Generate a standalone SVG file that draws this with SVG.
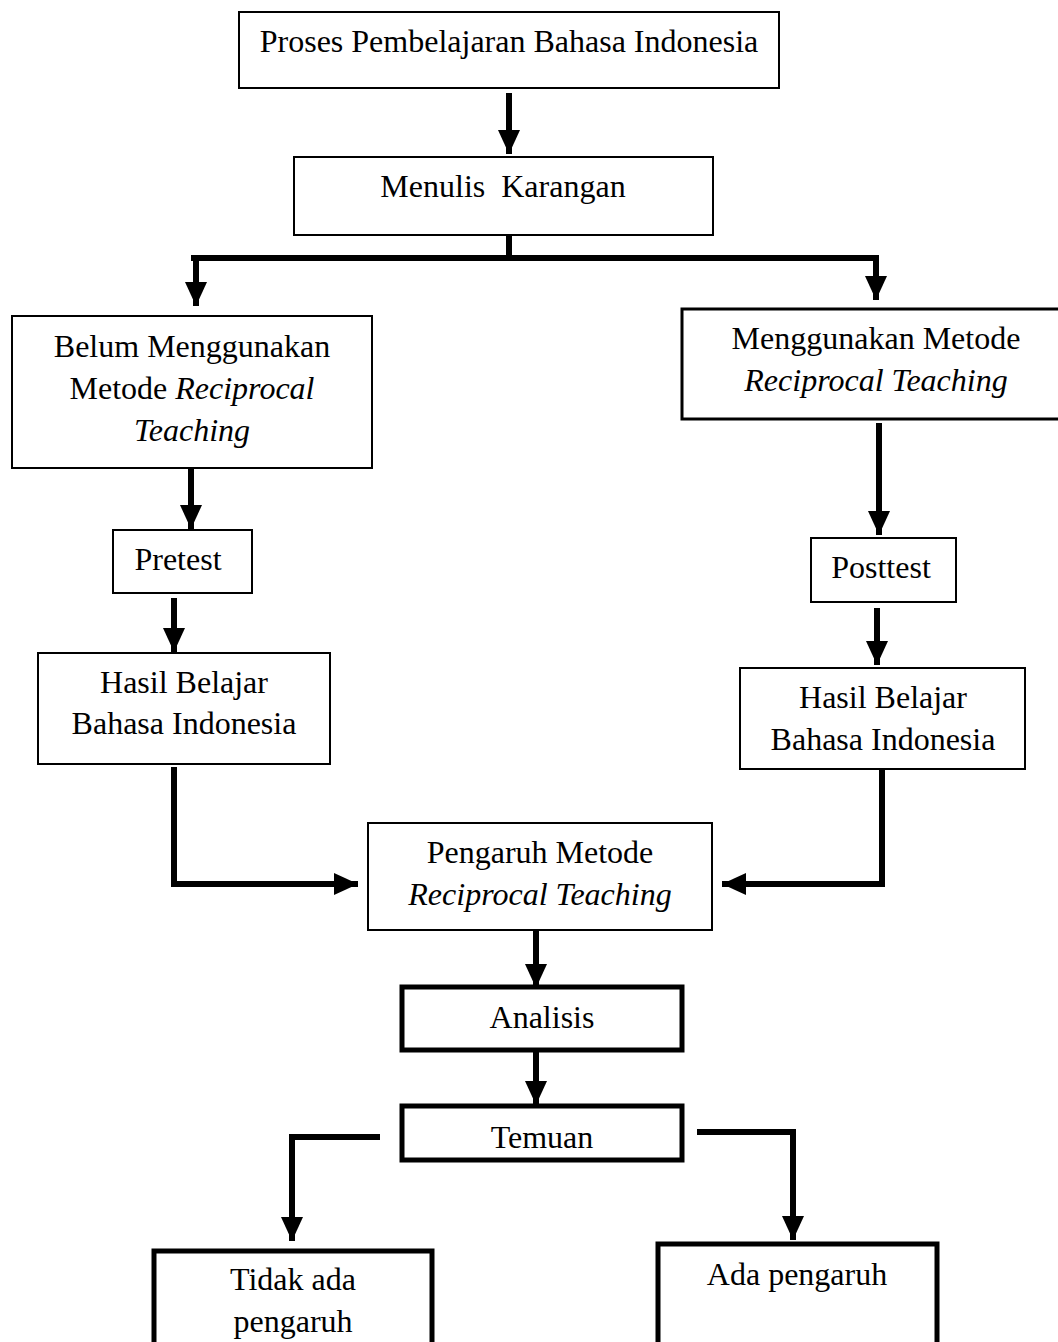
<svg xmlns="http://www.w3.org/2000/svg" width="1058" height="1342" viewBox="0 0 1058 1342">
<defs>
<style>
.box{fill:#fff;stroke:#000;stroke-width:2}
.bold{fill:#fff;stroke:#000;stroke-width:5}
.t{font-family:"Liberation Serif","Times New Roman",serif;font-size:32px;fill:#000;text-anchor:middle}
.i{font-style:italic}
.c{fill:none;stroke:#000;stroke-width:6;stroke-linejoin:miter;stroke-linecap:butt}
</style>
<marker id="ah" markerUnits="userSpaceOnUse" markerWidth="26" markerHeight="24" refX="24" refY="12" orient="auto" viewBox="0 0 26 24">
<path d="M0,1 L24,12 L0,23 z" fill="#000"/>
</marker>
</defs>
<rect width="1058" height="1342" fill="#fff"/>
<g id="connectors">
<path class="c" d="M509,93 V154" marker-end="url(#ah)"/>
<path class="c" d="M509,235 V258"/>
<path class="c" d="M191,258 H879"/>
<path class="c" d="M196,255 V306" marker-end="url(#ah)"/>
<path class="c" d="M876,255 V300" marker-end="url(#ah)"/>
<path class="c" d="M191,468 V529" marker-end="url(#ah)"/>
<path class="c" d="M174,598 V652" marker-end="url(#ah)"/>
<path class="c" d="M879,423 V535" marker-end="url(#ah)"/>
<path class="c" d="M877,608 V665" marker-end="url(#ah)"/>
<path class="c" d="M174,767 V884 H358" marker-end="url(#ah)"/>
<path class="c" d="M882,767 V884 H722" marker-end="url(#ah)"/>
<path class="c" d="M536,930 V988" marker-end="url(#ah)"/>
<path class="c" d="M536,1052 V1105" marker-end="url(#ah)"/>
<path class="c" d="M380,1137 H292 V1241" marker-end="url(#ah)"/>
<path class="c" d="M697,1132 H793 V1240" marker-end="url(#ah)"/>
</g>
<g id="n1"><rect class="box" x="239" y="12" width="540" height="76"/><text class="t" x="509" y="52">Proses Pembelajaran Bahasa Indonesia</text></g>
<g id="n2"><rect class="box" x="294" y="157" width="419" height="78"/><text class="t" x="503" y="197">Menulis &#160;Karangan</text></g>
<g id="n3"><rect class="box" x="12" y="316" width="360" height="152"/><text class="t" x="192" y="357">Belum Menggunakan</text><text class="t" x="192" y="399">Metode <tspan class="i">Reciprocal</tspan></text><text class="t i" x="192" y="441">Teaching</text></g>
<g id="n4"><rect class="box" x="682" y="309" width="380" height="110" style="stroke-width:3"/><text class="t" x="876" y="349">Menggunakan Metode</text><text class="t i" x="876" y="391">Reciprocal Teaching</text></g>
<g id="n5"><rect class="box" x="113" y="530" width="139" height="63"/><text class="t" x="178" y="570">Pretest</text></g>
<g id="n6"><rect class="box" x="811" y="538" width="145" height="64"/><text class="t" x="881" y="578">Posttest</text></g>
<g id="n7"><rect class="box" x="38" y="653" width="292" height="111"/><text class="t" x="184" y="693">Hasil Belajar</text><text class="t" x="184" y="734">Bahasa Indonesia</text></g>
<g id="n8"><rect class="box" x="740" y="668" width="285" height="101"/><text class="t" x="883" y="708">Hasil Belajar</text><text class="t" x="883" y="750">Bahasa Indonesia</text></g>
<g id="n9"><rect class="box" x="368" y="823" width="344" height="107"/><text class="t" x="540" y="863">Pengaruh Metode</text><text class="t i" x="540" y="905">Reciprocal Teaching</text></g>
<g id="n10"><rect class="bold" x="402" y="987" width="280" height="63"/><text class="t" x="542" y="1028">Analisis</text></g>
<g id="n11"><rect class="bold" x="402" y="1106" width="280" height="54"/><text class="t" x="542" y="1148">Temuan</text></g>
<g id="n12"><rect class="bold" x="154" y="1251" width="278" height="120"/><text class="t" x="293" y="1290">Tidak ada</text><text class="t" x="293" y="1332">pengaruh</text></g>
<g id="n13"><rect class="bold" x="658" y="1244" width="279" height="120"/><text class="t" x="797" y="1285">Ada pengaruh</text></g>
</svg>
